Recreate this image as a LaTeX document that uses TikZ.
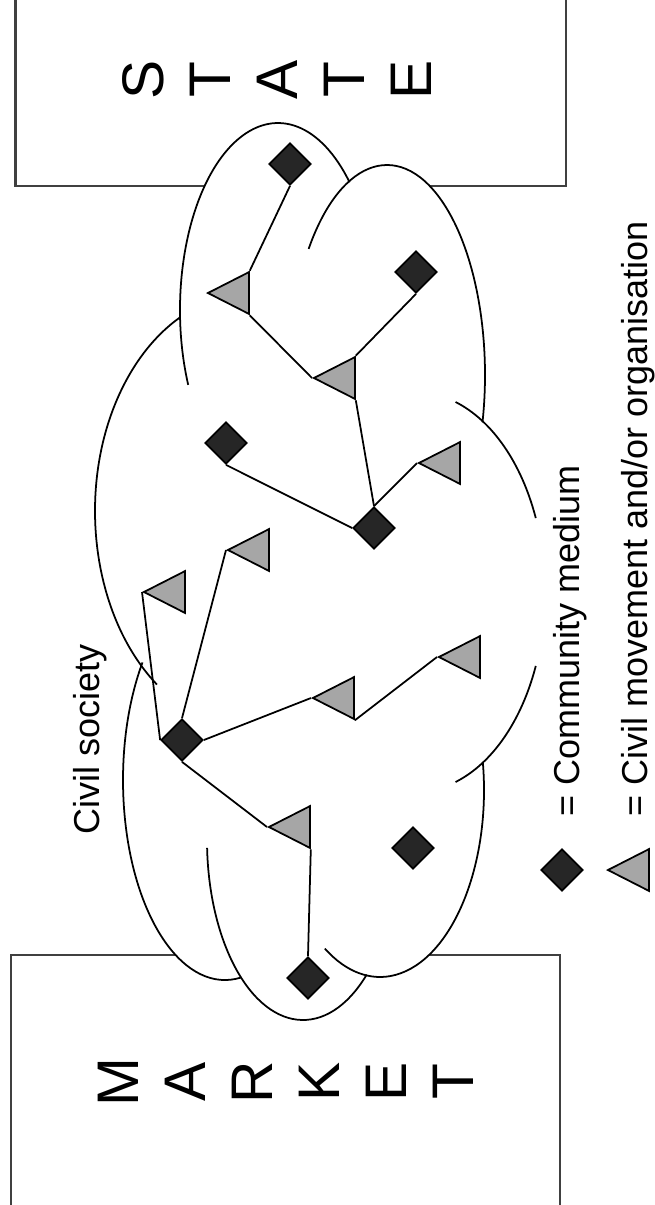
\documentclass[tikz,border=0pt]{standalone}
\usepackage{fontspec}
\setmainfont{Liberation Sans}
\usetikzlibrary{shapes.geometric}

\begin{document}
\begin{tikzpicture}[x=0.02cm,y=-0.02cm,
  medium/.style={diamond,draw,line width=1pt,fill=black!85,inner sep=0pt,minimum size=0.84cm},
  movement/.style={isosceles triangle,isosceles triangle apex angle=54,shape border rotate=180,
    draw,line width=1pt,fill=black!35,inner sep=0pt,minimum height=0.82cm,anchor=apex},
  lobe/.style={draw,line width=1pt},
  wall/.style={draw=black!75,line width=1.2pt},
  bigletter/.style={rotate=90,anchor=base,inner sep=0pt,font=\fontsize{33.4}{40}\selectfont},
  legendtext/.style={rotate=90,anchor=base west,inner sep=0pt,font=\fontsize{20.5}{24}\selectfont}]

\useasboundingbox (0,0) rectangle (655,1205);

% the two boxes
\draw[wall] (15.5,-5) -- (15.5,186) -- (566,186) -- (566,-5);
\draw[wall] (11,1210) -- (11,955) -- (560,955) -- (560,1210);

\node[bigletter] (state1) at (163,80)  {S};
\node[bigletter] (state2) at (230,80)  {T};
\node[bigletter] (state3) at (297,80)  {A};
\node[bigletter] (state4) at (364,80)  {T};
\node[bigletter] (state5) at (431,80)  {E};

\node[bigletter] (market1) at (138,1082) {M};
\node[bigletter] (market2) at (205,1082) {A};
\node[bigletter] (market3) at (272,1082) {R};
\node[bigletter] (market4) at (339,1082) {K};
\node[bigletter] (market5) at (406,1082) {E};
\node[bigletter] (market6) at (473,1082) {T};

% civil society cloud
\fill[white] (278,310) ellipse[x radius=98,y radius=187];
\fill[white] (387,375) ellipse[x radius=98,y radius=210];
\fill[white] (225,780) ellipse[x radius=102,y radius=200];
\fill[white] (303,840) ellipse[x radius=96,y radius=180];
\fill[white] (380,790) ellipse[x radius=104,y radius=187];

\draw[lobe,shift={(278,310)}] (156.4:98 and 187) arc[start angle=156.4,end angle=316.9,x radius=98,y radius=187];
\draw[lobe,shift={(387,375)}] (216.9:98 and 210) arc[start angle=216.9,end angle=373,x radius=98,y radius=210];
\draw[lobe,shift={(415,592)}] (-71.8:130 and 200) arc[start angle=-71.8,end angle=-21.7,x radius=130,y radius=200];
\draw[lobe,shift={(415,592)}] (21.7:130 and 200) arc[start angle=21.7,end angle=71.8,x radius=130,y radius=200];
\draw[lobe,shift={(250,511)}] (126.9:155 and 217) arc[start angle=126.9,end angle=243.1,x radius=155,y radius=217];
\draw[lobe,shift={(225,780)}] (81:102 and 200) arc[start angle=81,end angle=216,x radius=102,y radius=200];
\draw[lobe,shift={(303,840)}] (48.4:96 and 180) arc[start angle=48.4,end angle=177.5,x radius=96,y radius=180];
\draw[lobe,shift={(380,790)}] (-8.5:104 and 187) arc[start angle=-8.5,end angle=122,x radius=104,y radius=187];

\node[legendtext] (civil) at (99.5,835) {Civil society};

% media and movements
\node[medium] (d1) at (290,164) {};
\node[medium] (d2) at (416,272) {};
\node[medium] (d3) at (374,528) {};
\node[medium] (d4) at (226,443) {};
\node[medium] (d5) at (182,740) {};
\node[medium] (d6) at (308,978) {};
\node[medium] (d7) at (413,848) {};

\node[movement] (t1) at (206,293) {};
\node[movement] (t2) at (312,378) {};
\node[movement] (t3) at (417,463) {};
\node[movement] (t4) at (226,550) {};
\node[movement] (t5) at (142,592) {};
\node[movement] (t6) at (437,657) {};
\node[movement] (t7) at (311,698) {};
\node[movement] (t8) at (267,827) {};

\path[line width=1pt]
    (d1.south) edge (t1.right corner)
    (t1.left corner) edge (t2.apex)
    (d2.south) edge (t2.right corner)
    (t2.left corner) edge (d3.north)
    (d3.north) edge (t3.apex)
    (d3.west) edge (d4.south)
    (t5.apex) edge (d5.west)
    (d5.north) edge (t4.apex)
    (d5.east) edge (t7.apex)
    (t7.left corner) edge (t6.apex)
    (d5.south) edge (t8.apex)
    (t8.left corner) edge (d6.north);

% key
\node[medium] (keymedium) at (562,870) {};
\node[movement] (keymovement) at (606,870) {};
\node[legendtext] (keytext1) at (579,817) {= Community medium};
\node[legendtext] (keytext2) at (647,817) {= Civil movement and/or organisation};

\end{tikzpicture}
\end{document}
